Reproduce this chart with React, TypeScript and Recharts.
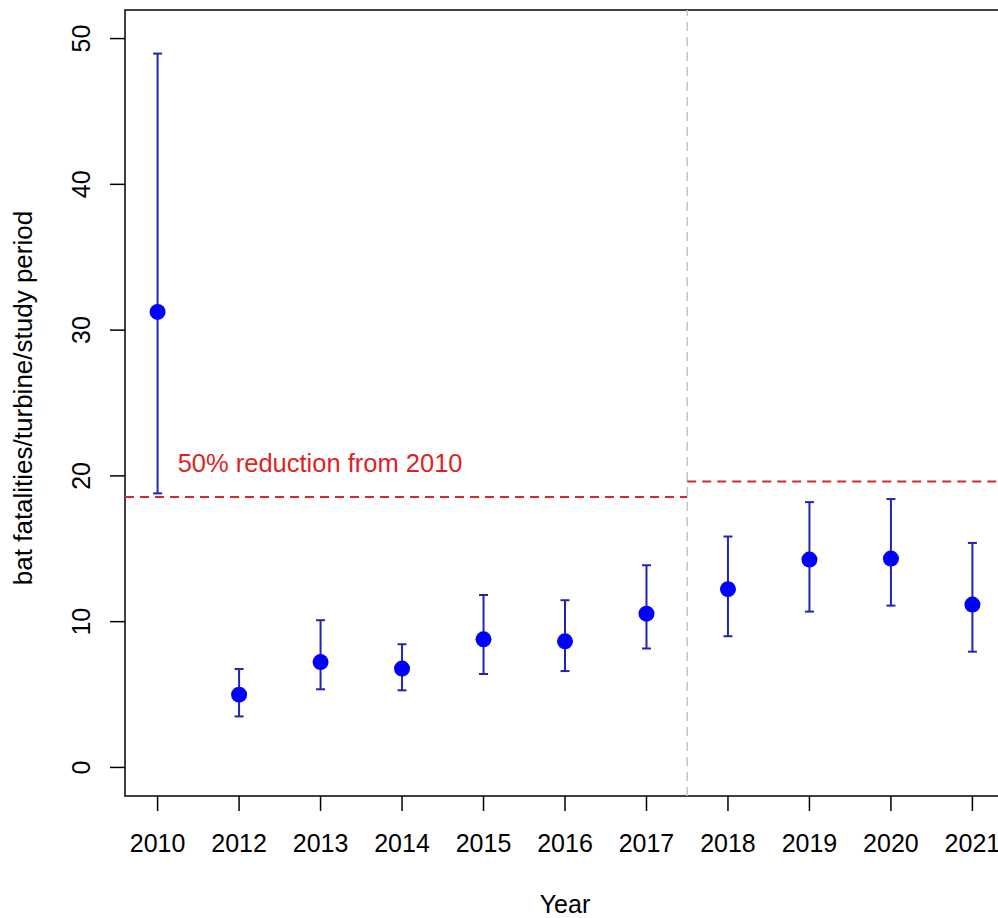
import React from 'react';
import {
  ComposedChart,
  XAxis,
  YAxis,
  Scatter,
  ErrorBar,
  ReferenceLine,
  ReferenceArea,
  ReferenceDot,
} from 'recharts';

const years = ['2010', '2012', '2013', '2014', '2015', '2016', '2017', '2018', '2019', '2020', '2021'];
const estimates = [31.25, 4.99, 7.23, 6.78, 8.79, 8.65, 10.55, 12.23, 14.26, 14.33, 11.17];
const lowerCI = [18.8, 3.5, 5.36, 5.29, 6.41, 6.61, 8.16, 9.0, 10.69, 11.1, 7.94];
const upperCI = [48.97, 6.75, 10.1, 8.45, 11.83, 11.47, 13.87, 15.84, 18.2, 18.41, 15.4];
const yTicks = [0, 10, 20, 30, 40, 50];
const thresholds = [
  { start: 0.6, end: 7.5, value: 18.56 },
  { start: 7.5, end: 11.4, value: 19.62 },
];
const periodBreak = 7.5;
const annotation = { x: 1.246, y: 20.26, text: '50% reduction from 2010' };

const xDomain: [number, number] = [0.6, 11.4];
const yDomain: [number, number] = [-1.96, 51.96];

const rows = years.map((year, i) => ({
  pos: i + 1,
  year,
  est: estimates[i],
  err: [estimates[i] - lowerCI[i], upperCI[i] - estimates[i]],
}));

const FONT = '"Liberation Sans", Arial, sans-serif';

const XTick = (props: any) => {
  const { x, payload } = props;
  return (
    <text x={x} y={852} textAnchor="middle" fontSize={25} fontFamily={FONT} fill="#000">
      {years[payload.value - 1]}
    </text>
  );
};

const YTick = (props: any) => {
  const { y, payload } = props;
  return (
    <text
      x={90}
      y={y}
      textAnchor="middle"
      fontSize={25}
      fontFamily={FONT}
      fill="#000"
      transform={`rotate(-90, 90, ${y})`}
    >
      {payload.value}
    </text>
  );
};

const Dot = (props: any) => <circle cx={props.cx} cy={props.cy} r={8} fill="#0000ff" />;
const NoDot = () => null;

export default function App() {
  return (
    <div
      style={{
        position: 'absolute',
        left: 0,
        top: 0,
        width: 998,
        height: 918,
        overflow: 'hidden',
        background: '#fff',
      }}
    >
      <ComposedChart width={1010} height={918} margin={{ top: 10, right: 5, bottom: 0, left: 0 }}>
        <XAxis
          type="number"
          dataKey="pos"
          domain={xDomain}
          ticks={years.map((_, i) => i + 1)}
          interval={0}
          allowDataOverflow
          height={122}
          tickSize={15}
          axisLine={false}
          tickLine={{ stroke: '#000', strokeWidth: 1.5 }}
          tick={<XTick />}
        />
        <YAxis
          type="number"
          dataKey="est"
          domain={yDomain}
          ticks={yTicks}
          interval={0}
          allowDataOverflow
          width={125}
          tickSize={15}
          axisLine={false}
          tickLine={{ stroke: '#000', strokeWidth: 1.5 }}
          tick={<YTick />}
        />
        <ReferenceLine
          x={periodBreak}
          stroke="#c4c4c4"
          strokeWidth={1.5}
          strokeDasharray="9 6"
        />
        {thresholds.map((t, i) => (
          <ReferenceLine
            key={i}
            segment={[
              { x: t.start, y: t.value },
              { x: t.end, y: t.value },
            ]}
            stroke="#d42a2a"
            strokeWidth={2}
            strokeDasharray="9 6"
          />
        ))}
        <ReferenceArea
          x1={xDomain[0]}
          x2={xDomain[1]}
          y1={yDomain[0]}
          y2={yDomain[1]}
          fill="none"
          fillOpacity={0}
          stroke="#000"
          strokeWidth={1.5}
        />
        <Scatter data={rows} dataKey="est" shape={<NoDot />} isAnimationActive={false}>
          <ErrorBar dataKey="err" direction="y" width={4.5} stroke="#2323b8" strokeWidth={2} />
        </Scatter>
        <Scatter data={rows} dataKey="est" shape={<Dot />} isAnimationActive={false} />
        <ReferenceDot
          x={annotation.x}
          y={annotation.y}
          r={0}
          shape={(p: any) => (
            <text x={p.cx} y={p.cy} fontSize={25.5} fontFamily={FONT} fill="#e21f1f" textAnchor="start">
              {annotation.text}
            </text>
          )}
        />
        <text
          x={32}
          y={398}
          textAnchor="middle"
          fontSize={26}
          fontFamily={FONT}
          fill="#000"
          transform="rotate(-90, 32, 398)"
        >
          bat fatalities/turbine/study period
        </text>
        <text x={565} y={913} textAnchor="middle" fontSize={25} fontFamily={FONT} fill="#000">
          Year
        </text>
      </ComposedChart>
    </div>
  );
}
